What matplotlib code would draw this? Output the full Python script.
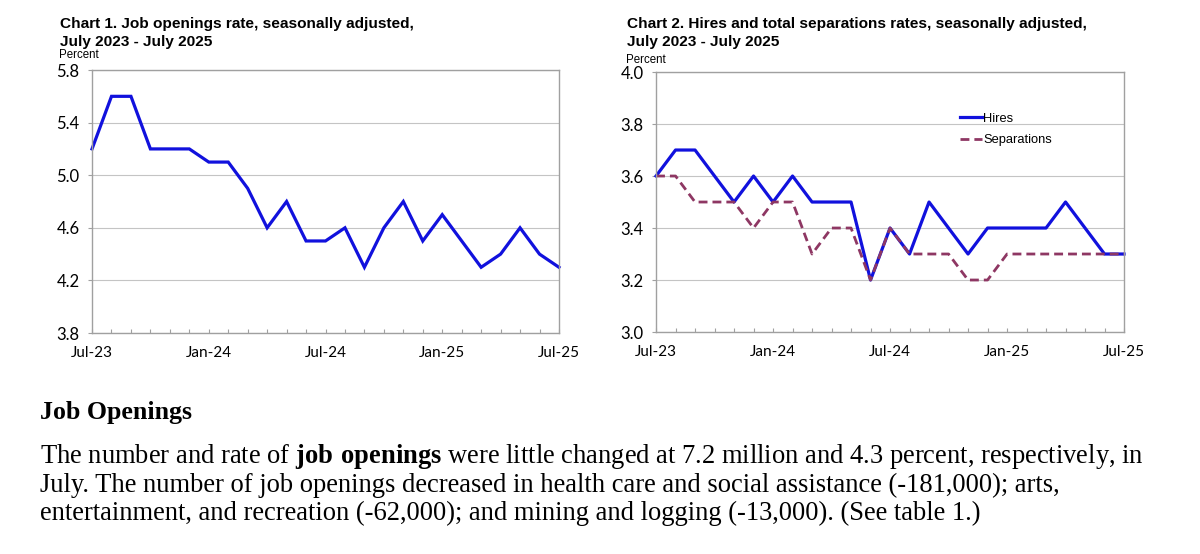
import matplotlib
matplotlib.use("Agg")
import matplotlib.pyplot as plt
from matplotlib.ticker import FixedLocator, MultipleLocator

# monthly values, Jul-23 .. Jul-25
months = ["Jul-23", "Aug-23", "Sep-23", "Oct-23", "Nov-23", "Dec-23",
          "Jan-24", "Feb-24", "Mar-24", "Apr-24", "May-24", "Jun-24",
          "Jul-24", "Aug-24", "Sep-24", "Oct-24", "Nov-24", "Dec-24",
          "Jan-25", "Feb-25", "Mar-25", "Apr-25", "May-25", "Jun-25", "Jul-25"]
openings = [5.2, 5.6, 5.6, 5.2, 5.2, 5.2, 5.1, 5.1, 4.9, 4.6, 4.8, 4.5,
            4.5, 4.6, 4.3, 4.6, 4.8, 4.5, 4.7, 4.5, 4.3, 4.4, 4.6, 4.4, 4.3]
hires = [3.6, 3.7, 3.7, 3.6, 3.5, 3.6, 3.5, 3.6, 3.5, 3.5, 3.5, 3.2,
         3.4, 3.3, 3.5, 3.4, 3.3, 3.4, 3.4, 3.4, 3.4, 3.5, 3.4, 3.3, 3.3]
separations = [3.6, 3.6, 3.5, 3.5, 3.5, 3.4, 3.5, 3.5, 3.3, 3.4, 3.4, 3.2,
               3.4, 3.3, 3.3, 3.3, 3.2, 3.2, 3.3, 3.3, 3.3, 3.3, 3.3, 3.3, 3.3]
label_idx = [0, 6, 12, 18, 24]

BLUE = "#1111dd"
PLUM = "#8e3763"
GRID = "#c4c4c4"
SPINE = "#a0a0a0"
TICKFONT = "Lato"

plt.rcParams["mathtext.fontset"] = "custom"
plt.rcParams["mathtext.rm"] = "Liberation Serif"
plt.rcParams["mathtext.bf"] = "Liberation Serif:bold"

fig = plt.figure(figsize=(12, 5.54), dpi=100)
ax1 = fig.add_axes([0.0767, 0.3989, 0.3891, 0.4747])
ax2 = fig.add_axes([0.5467, 0.4007, 0.39, 0.4693])


def style(ax, yticks):
    x = range(len(months))
    ax.set_xlim(0, len(months) - 1)
    ax.set_ylim(yticks[0], yticks[-1])
    ax.xaxis.set_major_locator(FixedLocator(label_idx))
    ax.xaxis.set_minor_locator(MultipleLocator(1))
    ax.set_xticklabels([months[i] for i in label_idx], family=TICKFONT, fontsize=11)
    ax.set_yticks(yticks)
    ax.set_yticklabels([f"{v:.1f}" for v in yticks], family=TICKFONT, fontsize=12)
    ax.tick_params(axis="x", which="both", direction="in", length=3, width=0.8,
                   color=SPINE, pad=9)
    ax.tick_params(axis="y", direction="out", length=3, width=0.8, color=SPINE, pad=6)
    ax.grid(axis="y", color=GRID, lw=0.8)
    ax.set_axisbelow(True)
    for s in ax.spines.values():
        s.set_color(SPINE)
        s.set_linewidth(1.0)
    return x


x = style(ax1, [3.8, 4.2, 4.6, 5.0, 5.4, 5.8])
ax1.plot(x, openings, color=BLUE, lw=2.3, solid_joinstyle="miter", clip_on=False)

x = style(ax2, [3.0, 3.2, 3.4, 3.6, 3.8, 4.0])
ax2.plot(x, hires, color=BLUE, lw=2.3, label="Hires", clip_on=False)
ax2.plot(x, separations, color=PLUM, lw=2.0, ls=(0, (3.2, 1.8)), label="Separations",
         clip_on=False)
ax2.legend(loc="upper left", bbox_to_anchor=(0.624, 0.888), frameon=False,
           handlelength=1.75, handletextpad=0.05, labelspacing=0.72,
           prop={"family": "Liberation Sans", "size": 9.3})

# chart titles
for xp, title in [(60, "Chart 1. Job openings rate, seasonally adjusted,"),
                  (627, "Chart 2. Hires and total separations rates, seasonally adjusted,")]:
    fig.text(xp / 1200, 1 - 28 / 554, title, family="Liberation Sans",
             weight="bold", fontsize=11.1, va="baseline")
    fig.text(xp / 1200, 1 - 46 / 554, "July 2023 - July 2025", family="Liberation Sans",
             weight="bold", fontsize=11.1, va="baseline")
fig.text(59 / 1200, 1 - 58 / 554, "Percent", family="Liberation Sans", fontsize=8.3,
         va="baseline")
fig.text(626 / 1200, 1 - 63 / 554, "Percent", family="Liberation Sans", fontsize=8.3,
         va="baseline")

# release text below the charts
fig.text(40 / 1200, 1 - 419 / 554, "Job Openings", family="Liberation Serif",
         weight="bold", fontsize=18.6, va="baseline")
body = [
    r"The number and rate of $\mathbf{job\ openings}$ were little changed at 7.2 million "
    "and 4.3 percent, respectively, in",
    "July. The number of job openings decreased in health care and social assistance "
    "(-181,000); arts,",
    "entertainment, and recreation (-62,000); and mining and logging (-13,000). (See table 1.)",
]
for i, line in enumerate(body):
    fig.text(40 / 1200, 1 - (463 + 28.5 * i) / 554, line, family="Liberation Serif",
             fontsize=19.1, va="baseline")

fig.savefig("out.png", dpi=100)
